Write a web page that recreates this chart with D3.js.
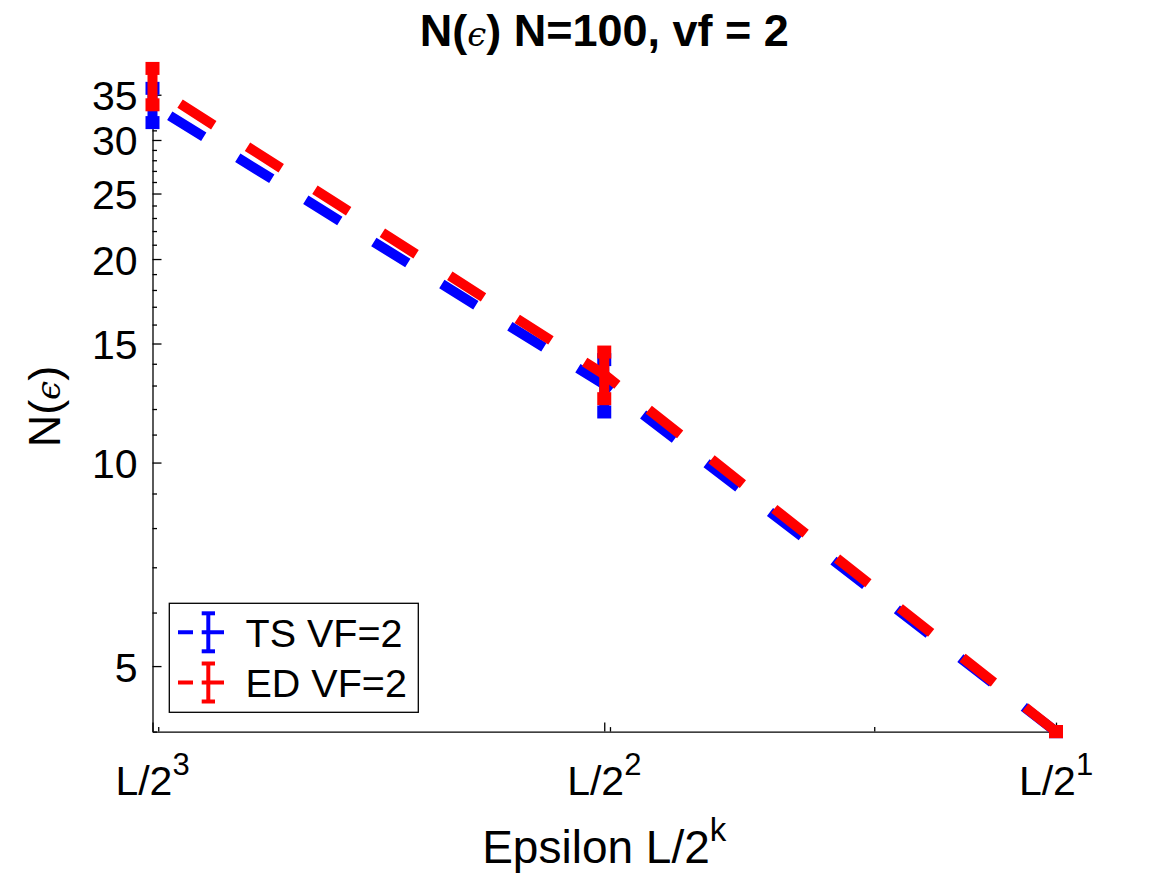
<!DOCTYPE html>
<html>
<head>
<meta charset="utf-8">
<script src="https://cdn.jsdelivr.net/npm/d3@7/dist/d3.min.js"></script>
<style>
  html, body { margin: 0; padding: 0; background: #fff; }
  svg { display: block; }
  text { font-family: "Liberation Sans", Arial, Helvetica, sans-serif; fill: #000; }
</style>
</head>
<body>
<svg id="chart" width="1167" height="875"></svg>
<script>
// ---------------- data ----------------
const L = 79.3;                                   // epsilon base length
const epsilon = [L / 8, L / 4, L / 2];            // x positions (L/2^3, L/2^2, L/2^1)
const xTickExponents = [3, 2, 1];                 // tick labels L/2^k
const xMinorTicks = [10, 20, 30];
const tsMean = [33.8, 13.04, 4.0];                // TS VF=2
const tsErr  = [1.97, 1.16, 0.0];
const edMean = [36.05, 13.5, 4.0];                // ED VF=2
const edErr  = [2.23, 1.07, 0.0];
const yTicks = [5, 10, 15, 20, 25, 30, 35];
const yMinorTicks = d3.range(4, 37).filter(v => v % 5 !== 0);
const seriesNames = ["TS VF=2", "ED VF=2"];
const seriesColors = ["#0000ff", "#ff0000"];

// ---------------- layout ----------------
const svg = d3.select("#chart");
const mLeft = 152.5, mRight = 1056, mBottom = 731.6, mTop = 81.6;

const x = d3.scaleLog().domain([L / 8, L / 2]).range([mLeft, mRight]);
const y = d3.scaleLog().domain([4, 36.6]).range([mBottom, mTop]);

// ---------------- axes ----------------
const gx = svg.append("g").attr("transform", `translate(0,${mBottom})`);
gx.call(d3.axisBottom(x).tickValues(epsilon).tickSizeInner(-9).tickSizeOuter(0).tickFormat(""));
const gxm = svg.append("g").attr("transform", `translate(0,${mBottom})`);
gxm.call(d3.axisBottom(x).tickValues(xMinorTicks).tickSizeInner(-4.5).tickSizeOuter(0).tickFormat(""));
gxm.select(".domain").remove();

const gy = svg.append("g").attr("transform", `translate(${mLeft},0)`);
gy.call(d3.axisLeft(y).tickValues(yTicks).tickSizeInner(-9).tickSizeOuter(0).tickFormat(""));
const gym = svg.append("g").attr("transform", `translate(${mLeft},0)`);
gym.call(d3.axisLeft(y).tickValues(yMinorTicks).tickSizeInner(-4.5).tickSizeOuter(0).tickFormat(""));
gym.select(".domain").remove();

svg.selectAll(".domain").attr("stroke", "#000").attr("stroke-width", 1.3);
svg.selectAll(".tick line").attr("stroke", "#000").attr("stroke-width", 1.3);

// y tick labels
svg.append("g").selectAll("text").data(yTicks).join("text")
  .attr("x", 137.5).attr("y", d => y(d) + 15.5)
  .attr("text-anchor", "end").attr("font-size", 41)
  .text(d => d);

// x tick labels L/2^k
svg.append("g").selectAll("text").data(epsilon).join("text")
  .attr("x", d => x(d)).attr("y", 795)
  .attr("text-anchor", "middle").attr("font-size", 41)
  .each(function (d, i) {
    const t = d3.select(this);
    t.append("tspan").text("L/2");
    t.append("tspan").attr("font-size", 31).attr("dy", -20).text(xTickExponents[i]);
  });

// x label
const xl = svg.append("text").attr("x", (mLeft + mRight) / 2).attr("y", 863)
  .attr("text-anchor", "middle").attr("font-size", 46);
xl.append("tspan").text("Epsilon L/2");
xl.append("tspan").attr("font-size", 33).attr("dy", -22).text("k");

// y label
const yl = svg.append("text")
  .attr("transform", `translate(60,${(mTop + mBottom) / 2}) rotate(-90)`)
  .attr("text-anchor", "middle").attr("font-size", 45);
yl.append("tspan").text("N(");
yl.append("tspan").attr("font-family", "DejaVu Serif").attr("font-style", "italic").attr("font-size", 34).text("ϵ");
yl.append("tspan").text(")");

// title
const tt = svg.append("text").attr("x", (mLeft + mRight) / 2).attr("y", 46)
  .attr("text-anchor", "middle").attr("font-size", 45).attr("font-weight", "bold");
tt.append("tspan").text("N(");
tt.append("tspan").attr("font-weight", "normal").attr("font-family", "DejaVu Serif").attr("font-style", "italic").attr("font-size", 34).text("ϵ");
tt.append("tspan").text(") N=100, vf = 2");

// ---------------- series ----------------
const series = [
  { mean: tsMean, err: tsErr, color: seriesColors[0], offset: 59.7 },
  { mean: edMean, err: edErr, color: seriesColors[1], offset: 47.3 }
];
const line = d3.line().x(d => x(d[0])).y(d => y(d[1]));
const capW = 14, capH = 13, barW = 10;

series.forEach(s => {
  const pts = epsilon.map((e, i) => [e, s.mean[i]]);
  svg.append("path").datum(pts)
    .attr("d", line)
    .attr("fill", "none").attr("stroke", s.color).attr("stroke-width", 10)
    .attr("stroke-dasharray", "40 40").attr("stroke-dashoffset", s.offset)
    .attr("stroke-linecap", "butt");
  const g = svg.append("g");
  epsilon.forEach((e, i) => {
    const hi = y(s.mean[i] + s.err[i]), lo = y(s.mean[i] - s.err[i]);
    g.append("line").attr("x1", x(e)).attr("x2", x(e)).attr("y1", hi).attr("y2", lo)
      .attr("stroke", s.color).attr("stroke-width", barW);
    [hi, lo].forEach(yy => {
      g.append("rect").attr("x", x(e) - capW / 2).attr("y", yy - capH / 2)
        .attr("width", capW).attr("height", capH).attr("fill", s.color);
    });
  });
});

// ---------------- legend ----------------
const lg = svg.append("g");
lg.append("rect").attr("x", 169.3).attr("y", 603.3).attr("width", 249).attr("height", 109)
  .attr("fill", "#fff").attr("stroke", "#000").attr("stroke-width", 1.3);
const rowsY = [632.3, 682.5];
seriesNames.forEach((name, i) => {
  const cy = rowsY[i], col = seriesColors[i];
  lg.append("line").attr("x1", 178).attr("x2", 224).attr("y1", cy).attr("y2", cy)
    .attr("stroke", col).attr("stroke-width", 4).attr("stroke-dasharray", "15 8.7 40");
  lg.append("line").attr("x1", 208.3).attr("x2", 208.3).attr("y1", cy - 19).attr("y2", cy + 19)
    .attr("stroke", col).attr("stroke-width", 4);
  [cy - 19, cy + 19].forEach(yy => {
    lg.append("line").attr("x1", 201.7).attr("x2", 215).attr("y1", yy).attr("y2", yy)
      .attr("stroke", col).attr("stroke-width", 4);
  });
  lg.append("text").attr("x", 245.5).attr("y", cy + 14.3).attr("font-size", 39.5).text(name);
});
</script>
</body>
</html>
